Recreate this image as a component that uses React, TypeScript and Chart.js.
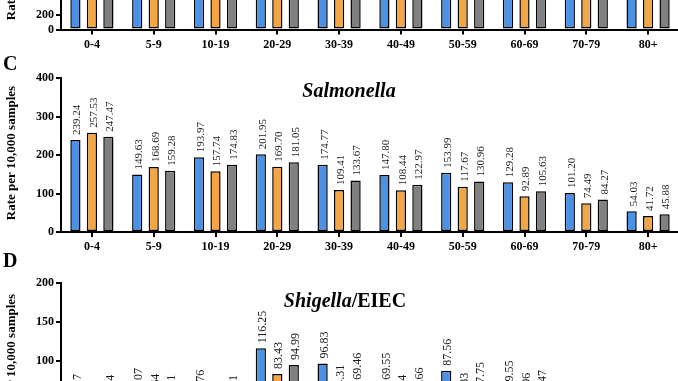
import React, { useEffect, useRef } from "react";
import { Chart, registerables } from "chart.js";

Chart.register(...registerables);

// ---------- data ----------
const ageGroups = ["0-4", "5-9", "10-19", "20-29", "30-39", "40-49", "50-59", "60-69", "70-79", "80+"];
const seriesNames = ["Period 1", "Period 2", "Period 3"];
const seriesColors = ["#4A92E6", "#F4A544", "#808080"];

// Panel B (only the bottom of this panel is visible; bars run off the top)
const panelB1 = [820, 760, 700, 690, 650, 640, 660, 700, 720, 780];
const panelB2 = [860, 780, 690, 640, 600, 590, 610, 650, 680, 740];
const panelB3 = [840, 770, 700, 660, 620, 610, 630, 670, 700, 760];
const panelBTicks = [0, 200, 1000, 2000];

// Panel C: Salmonella
const salmonella1 = [239.24, 149.63, 193.97, 201.95, 174.77, 147.8, 153.99, 129.28, 101.2, 54.03];
const salmonella2 = [257.53, 168.69, 157.74, 169.7, 109.41, 108.44, 117.67, 92.89, 74.49, 41.72];
const salmonella3 = [247.47, 159.28, 174.83, 181.05, 133.67, 122.97, 130.96, 105.63, 84.27, 45.88];
const salmonellaTicks = [0, 100, 200, 300, 400];

// Panel D: Shigella/EIEC
const shigella1 = [42.17, 50.07, 47.76, 116.25, 96.83, 69.55, 87.56, 59.55, 30.12, 18.4];
const shigella2 = [31.52, 42.64, 30.2, 83.43, 54.31, 41.24, 43.83, 43.96, 24.8, 14.3];
const shigella3 = [41.34, 41.21, 40.91, 94.99, 69.46, 50.66, 57.75, 47.47, 28.6, 16.9];
const shigellaTicks = [0, 50, 100, 150, 200];

const yTitle = "Rate per 10,000 samples";
const SERIF = '"Liberation Serif", "Times New Roman", serif';

type TitlePart = { text: string; italic: boolean };

type PanelProps = {
  top: number; // container y of canvas top
  height: number;
  plotTop: number; // container y of max value
  zeroY: number; // container y of value 0
  yMax: number;
  ticks: number[];
  series: number[][];
  labelSize: number;
  letter?: string;
  letterY?: number;
  title?: TitlePart[];
  titleX?: number;
  titleY?: number;
  yTitleCenter: number;
};

const CANVAS_W = 690;
const AXIS_X = 61;
const PLOT_RIGHT = 679;

function BarPanel(p: PanelProps) {
  const ref = useRef<HTMLCanvasElement>(null);

  useEffect(() => {
    const canvas = ref.current;
    if (!canvas) return;
    const padTop = p.plotTop - p.top;
    const plotBottom = p.zeroY - p.top;
    const xAxisHeight = p.height - plotBottom;

    const textPlugin = {
      id: "panelText",
      afterDatasetsDraw(chart: any) {
        const ctx = chart.ctx as CanvasRenderingContext2D;
        ctx.save();
        ctx.fillStyle = "#1a1a1a";
        ctx.font = `${p.labelSize}px ${SERIF}`;
        ctx.textAlign = "left";
        ctx.textBaseline = "middle";
        chart.data.datasets.forEach((ds: any, di: number) => {
          const meta = chart.getDatasetMeta(di);
          meta.data.forEach((el: any, i: number) => {
            const v = ds.data[i] as number;
            ctx.save();
            ctx.translate(el.x + 2, el.y - 5);
            ctx.rotate(-Math.PI / 2);
            ctx.fillText(v.toFixed(2), 0, 0);
            ctx.restore();
          });
        });
        ctx.restore();
      },
      afterDraw(chart: any) {
        const ctx = chart.ctx as CanvasRenderingContext2D;
        ctx.save();
        ctx.fillStyle = "#000";
        if (p.letter && p.letterY !== undefined) {
          ctx.font = `bold 20px ${SERIF}`;
          ctx.textAlign = "left";
          ctx.textBaseline = "middle";
          ctx.fillText(p.letter, 3, p.letterY - p.top);
        }
        if (p.title && p.titleX !== undefined && p.titleY !== undefined) {
          ctx.textBaseline = "middle";
          ctx.textAlign = "left";
          const fonts = p.title.map((t) => `${t.italic ? "italic " : ""}bold 20px ${SERIF}`);
          let total = 0;
          p.title.forEach((t, i) => {
            ctx.font = fonts[i];
            total += ctx.measureText(t.text).width;
          });
          let x = p.titleX - total / 2;
          p.title.forEach((t, i) => {
            ctx.font = fonts[i];
            ctx.fillText(t.text, x, p.titleY! - p.top);
            x += ctx.measureText(t.text).width;
          });
        }
        ctx.translate(12, p.yTitleCenter - p.top);
        ctx.rotate(-Math.PI / 2);
        ctx.font = `bold 13px ${SERIF}`;
        ctx.textAlign = "center";
        ctx.textBaseline = "middle";
        ctx.fillText(yTitle, 0, 0);
        ctx.restore();
      },
    };

    const chart = new Chart(canvas, {
      type: "bar",
      data: {
        labels: ageGroups,
        datasets: p.series.map((s, i) => ({
          label: seriesNames[i],
          data: s,
          backgroundColor: seriesColors[i],
          borderColor: "#000",
          borderWidth: 1.5,
          borderSkipped: false,
          categoryPercentage: 0.8,
          barPercentage: 0.62,
        })),
      },
      options: {
        responsive: false,
        animation: false,
        events: [],
        layout: { padding: { top: padTop, left: 0, right: CANVAS_W - PLOT_RIGHT, bottom: 0 } },
        plugins: { legend: { display: false }, tooltip: { enabled: false }, title: { display: false } },
        scales: {
          x: {
            type: "category",
            offset: true,
            grid: {
              offset: false,
              drawOnChartArea: false,
              drawTicks: true,
              tickLength: 5,
              color: "#000",
              lineWidth: 2,
            },
            border: { display: true, color: "#000", width: 2 },
            ticks: {
              color: "#000",
              font: { family: SERIF, size: 12, weight: "bold" },
              padding: 3,
              maxRotation: 0,
              autoSkip: false,
            },
            afterFit: (scale: any) => {
              scale.height = xAxisHeight;
            },
          },
          y: {
            type: "linear",
            min: 0,
            max: p.yMax,
            grid: {
              drawOnChartArea: false,
              drawTicks: true,
              tickLength: 5,
              color: "#000",
              lineWidth: 2,
            },
            border: { display: true, color: "#000", width: 2 },
            ticks: {
              color: "#000",
              font: { family: SERIF, size: 12, weight: "bold" },
              padding: 2,
            },
            afterBuildTicks: (axis: any) => {
              axis.ticks = p.ticks.map((v) => ({ value: v }));
            },
            afterFit: (scale: any) => {
              scale.width = AXIS_X;
            },
          },
        },
      } as any,
      plugins: [textPlugin as any],
    });
    return () => chart.destroy();
  }, []);

  return (
    <canvas
      ref={ref}
      width={CANVAS_W}
      height={p.height}
      style={{ position: "absolute", left: 0, top: p.top, width: CANVAS_W, height: p.height }}
    />
  );
}

export default function App() {
  return (
    <div
      style={{
        position: "fixed",
        left: 0,
        top: 0,
        width: 678,
        height: 381,
        overflow: "hidden",
        background: "#fff",
      }}
    >
      <BarPanel
        top={-140}
        height={200}
        plotTop={-125}
        zeroY={29.5}
        yMax={2130}
        ticks={panelBTicks}
        series={[panelB1, panelB2, panelB3]}
        labelSize={11}
        yTitleCenter={-47}
      />
      <BarPanel
        top={40}
        height={220}
        plotTop={78}
        zeroY={232}
        yMax={400}
        ticks={salmonellaTicks}
        series={[salmonella1, salmonella2, salmonella3]}
        labelSize={11}
        letter="C"
        letterY={65}
        title={[{ text: "Salmonella", italic: true }]}
        titleX={349}
        titleY={92}
        yTitleCenter={153}
      />
      <BarPanel
        top={250}
        height={240}
        plotTop={283}
        zeroY={439}
        yMax={200}
        ticks={shigellaTicks}
        series={[shigella1, shigella2, shigella3]}
        labelSize={12}
        letter="D"
        letterY={262}
        title={[
          { text: "Shigella", italic: true },
          { text: "/EIEC", italic: false },
        ]}
        titleX={345}
        titleY={302}
        yTitleCenter={361}
      />
    </div>
  );
}
